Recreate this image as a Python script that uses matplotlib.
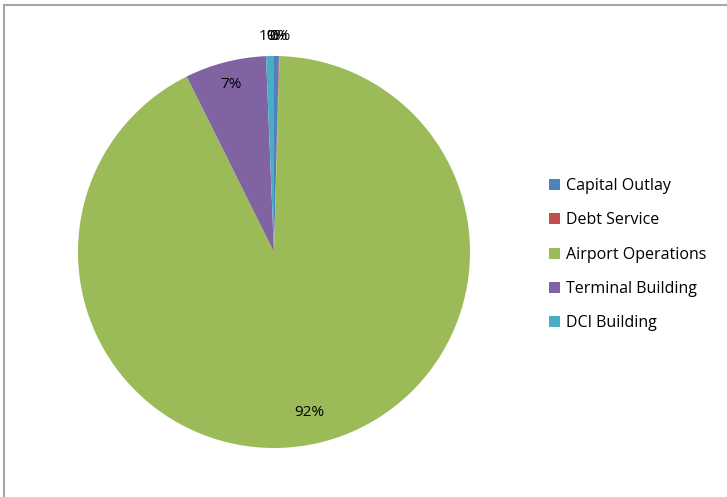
import numpy as np
import matplotlib
matplotlib.use("Agg")
import matplotlib.pyplot as plt
from matplotlib.patches import Rectangle

categories = ["Capital Outlay", "Debt Service", "Airport Operations", "Terminal Building", "DCI Building"]
shares = [0.4, 0.05, 92.2, 6.7, 0.65]
colors = ["#4F81BD", "#C0504D", "#9BBB59", "#8064A2", "#4BACC6"]

plt.rcParams["font.family"] = ["Open Sans", "DejaVu Sans"]

W, H = 727, 497
fig = plt.figure(figsize=(W / 100, H / 100), dpi=100)

# chart frame
fig.patches.append(Rectangle((4 / W, -0.1), 1.2, 1.1 - 5 / H, transform=fig.transFigure,
                             fill=False, edgecolor="#A6A6A6", linewidth=1.5))

cx, cy, r = 274, 252, 196
ax = fig.add_axes([(cx - r) / W, (H - cy - r) / H, 2 * r / W, 2 * r / H])

wedges, _ = ax.pie(shares, colors=colors, startangle=90, counterclock=False,
                   wedgeprops=dict(linewidth=0))
ax.set_xlim(-1, 1)
ax.set_ylim(-1, 1)
ax.axis("off")

total = sum(shares)
for w, v in zip(wedges, shares):
    ang = np.deg2rad((w.theta1 + w.theta2) / 2)
    pct = v / total * 100
    if pct < 3:
        d = 1.1
    elif pct < 20:
        d = 0.88
    else:
        d = 0.84
    ax.text(d * np.cos(ang), d * np.sin(ang), f"{pct:.0f}%", ha="center", va="center",
            fontsize=11, color="#000000", clip_on=False)

leg = ax.legend(wedges, categories, loc="upper left", bbox_to_anchor=(549 / W, 1 - 178 / H),
                bbox_transform=fig.transFigure, frameon=False, fontsize=11.5,
                handlelength=0.7, handleheight=0.7, handletextpad=0.35, labelspacing=1.15,
                borderpad=0, borderaxespad=0)

fig.savefig("out.png", dpi=100)
